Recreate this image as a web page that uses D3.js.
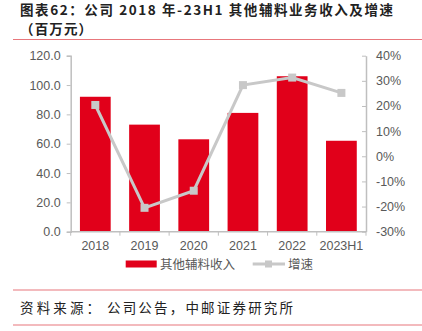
<!DOCTYPE html>
<html><head><meta charset="utf-8">
<script src="https://cdn.jsdelivr.net/npm/d3@7"></script>
<style>body{margin:0;background:#fff;}svg{display:block;}</style>
</head><body>
<svg id="c" width="422" height="331"></svg>
<script>
const categories = ["2018","2019","2020","2021","2022","2023H1"];
const revenue = [92, 73, 63, 81, 106, 62];
const growth = [20.4, -20.5, -13.7, 28.3, 31.3, 25.2];
const leftTicks = [0,20,40,60,80,100,120];
const rightTicks = [-30,-20,-10,0,10,20,30,40];
const seriesNames = ["其他辅料收入","增速"];
const titleLines = ["图表62：公司 2018 年-23H1 其他辅料业务收入及增速","（百万元）"];
const sourceLabel = "资料来源：";
const sourceText = "公司公告，中邮证券研究所";

const svg = d3.select("#c");
const M = {l:70.7, r:366, t:55.7, b:231.7};
const x = d3.scaleBand().domain(categories).range([M.l, M.r]).paddingInner(0.375).paddingOuter(0.1875);
const yL = d3.scaleLinear().domain([0,120]).range([M.b, M.t]);
const yR = d3.scaleLinear().domain([-30,40]).range([M.b, M.t]);
const cjk = "'Noto Sans CJK SC', sans-serif";
const lat = "'Liberation Sans', Arial, sans-serif";
const red = "#e1001a", gray="#c8c8c8", axisC="#bfbfbf", txt="#595959";

// title
const tt = svg.append("g").attr("font-family", cjk).attr("font-weight","bold").attr("font-size",13.5).attr("fill","#222");
tt.append("text").attr("x",20).attr("y",14.5).text(titleLines[0]).attr("textLength",373).attr("lengthAdjust","spacing");
tt.append("text").attr("x",20).attr("y",34).text(titleLines[1]).attr("textLength",72).attr("lengthAdjust","spacing");
svg.append("line").attr("x1",13).attr("x2",422).attr("y1",39.5).attr("y2",39.5).attr("stroke","#e8777c").attr("stroke-width",1.2);

// bars
svg.append("g").selectAll("rect").data(categories).join("rect")
  .attr("x", d=>x(d)).attr("width", x.bandwidth())
  .attr("y", (d,i)=>yL(revenue[i])).attr("height",(d,i)=>yL(0)-yL(revenue[i]))
  .attr("fill", red);

// axes
const gl = svg.append("g").attr("transform",`translate(${M.l},0)`)
  .call(d3.axisLeft(yL).tickValues(leftTicks).tickFormat(d3.format(".1f")).tickSize(4).tickPadding(6));
const gr = svg.append("g").attr("transform",`translate(${M.r},0)`)
  .call(d3.axisRight(yR).tickValues(rightTicks).tickFormat(d=>d+"%").tickSize(0).tickPadding(10));
gr.selectAll(".tick line").attr("x1",-4).attr("x2",0);
const gb = svg.append("g").attr("transform",`translate(0,${M.b})`)
  .call(d3.axisBottom(x).tickSize(0).tickPadding(9));
const bounds = d3.range(categories.length+1).map(i=>M.l + i*(M.r-M.l)/categories.length);
gb.selectAll(".bt").data(bounds).join("line").attr("class","bt")
  .attr("x1",d=>d).attr("x2",d=>d).attr("y1",0).attr("y2",4).attr("stroke",axisC);
[gl,gr,gb].forEach(g=>{
  g.selectAll(".domain").attr("stroke",axisC).attr("stroke-width",1.5);
  g.selectAll(".tick line").attr("stroke",axisC);
  g.selectAll("text").attr("fill",txt).attr("font-family",lat).attr("font-size",12.5);
});
gb.select(".domain").attr("d",`M${M.l},0H${M.r}`);

// line
const cx = d=>x(d)+x.bandwidth()/2;
svg.append("path").datum(categories)
  .attr("d", d3.line().x(cx).y((d,i)=>yR(growth[i])))
  .attr("fill","none").attr("stroke",gray).attr("stroke-width",3);
svg.append("g").selectAll("rect").data(categories).join("rect")
  .attr("x",d=>cx(d)-4).attr("y",(d,i)=>yR(growth[i])-4).attr("width",8).attr("height",8).attr("fill",gray);

// legend
const lg = svg.append("g").attr("font-family",cjk).attr("font-size",12.5).attr("fill",txt);
lg.append("rect").attr("x",125.7).attr("y",260.5).attr("width",31).attr("height",7).attr("fill",red);
lg.append("text").attr("x",160).attr("y",268.5).text(seriesNames[0]);
lg.append("line").attr("x1",252.7).attr("x2",285).attr("y1",264).attr("y2",264).attr("stroke",gray).attr("stroke-width",3);
lg.append("rect").attr("x",265).attr("y",260.5).attr("width",7).attr("height",7).attr("fill",gray);
lg.append("text").attr("x",288).attr("y",268.5).text(seriesNames[1]);

// footer
svg.append("line").attr("x1",13).attr("x2",422).attr("y1",290).attr("y2",290).attr("stroke","#e8777c").attr("stroke-width",1.2);
const ft = svg.append("g").attr("font-family",cjk).attr("font-size",13.5).attr("fill","#222");
ft.append("text").attr("x",20).attr("y",312.5).text(sourceLabel).attr("textLength",80).attr("lengthAdjust","spacing");
ft.append("text").attr("x",107).attr("y",312.5).text(sourceText).attr("textLength",186).attr("lengthAdjust","spacing");
svg.append("line").attr("x1",13).attr("x2",422).attr("y1",325).attr("y2",325).attr("stroke","#e8777c").attr("stroke-width",1.2);
</script>
</body></html>
